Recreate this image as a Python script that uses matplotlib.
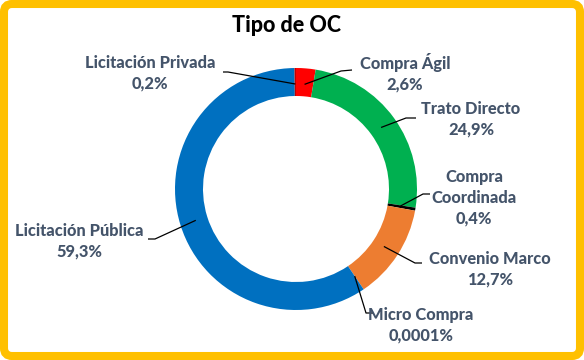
import numpy as np
import matplotlib
matplotlib.use("Agg")
import matplotlib.pyplot as plt
from matplotlib.patches import FancyBboxPatch

plt.rcParams['font.family'] = ['Lato', 'DejaVu Sans']

# data, clockwise from 12 o'clock
categories = ["Compra Ágil", "Trato Directo", "Compra\nCoordinada", "Convenio Marco",
              "Micro Compra", "Licitación Pública", "Licitación Privada"]
pct_labels = ["2,6%", "24,9%", "0,4%", "12,7%", "0,0001%", "59,3%", "0,2%"]
shares = [2.6, 24.9, 0.4, 12.7, 0.0001, 59.3, 0.2]
colors = ["#FF0000", "#00B050", "#000000", "#ED7D31", "#A5A5A5", "#0070C0", "#C00000"]

W, H = 584, 360
fig = plt.figure(figsize=(W / 100, H / 100), dpi=100, facecolor="white")
ax = fig.add_axes([0, 0, 1, 1])

cx, cy, R, ring = 296, 171, 121, 28
wedges, _ = ax.pie(shares, colors=colors, startangle=90, counterclock=False,
                   radius=R, center=(cx, cy),
                   wedgeprops=dict(width=ring, linewidth=0))

# label layout (pixel positions, y measured from top of image)
text_pos = [(405, 73), (471, 119), (474, 198), (490, 269), (421, 325), (79, 241), (150, 73)]
# leader line: elbow point, end point (from top)
leaders = [((341, 71), (352, 70)),
           ((406, 118), (416, 118)),
           ((423, 194), (430, 194)),
           ((415, 263), (422, 263)),
           ((366, 313), (373, 313)),
           ((155, 239), (148, 239)),
           ((228, 72), (223, 72))]

label_color = "#44546A"
for w, name, pct, (tx, ty), (elb, end) in zip(wedges, categories, pct_labels, text_pos, leaders):
    mid = np.deg2rad((w.theta1 + w.theta2) / 2)
    r_anchor = R - 16
    ax_x = cx + r_anchor * np.cos(mid)
    ax_y = cy + r_anchor * np.sin(mid)
    ax.plot([ax_x, elb[0], end[0]], [ax_y, H - elb[1], H - end[1]],
            color="black", lw=0.9, solid_capstyle="butt")
    ax.text(tx, H - ty, f"{name}\n{pct}", ha="center", va="center",
            fontsize=11.8, fontweight="black", color=label_color, linespacing=1.35)

ax.text(287, H - 25, "Tipo de OC", ha="center", va="center",
        fontsize=15.5, fontweight="black", color="black")

# gold rounded frame
border = FancyBboxPatch((4, 4), W - 8, H - 8, boxstyle="round,pad=0,rounding_size=8",
                        facecolor="none", edgecolor="#FFC000", linewidth=5.8)
ax.add_patch(border)

ax.set_xlim(0, W)
ax.set_ylim(0, H)
ax.set_aspect("auto")
ax.axis("off")

fig.savefig("out.png", dpi=100, facecolor="white")
